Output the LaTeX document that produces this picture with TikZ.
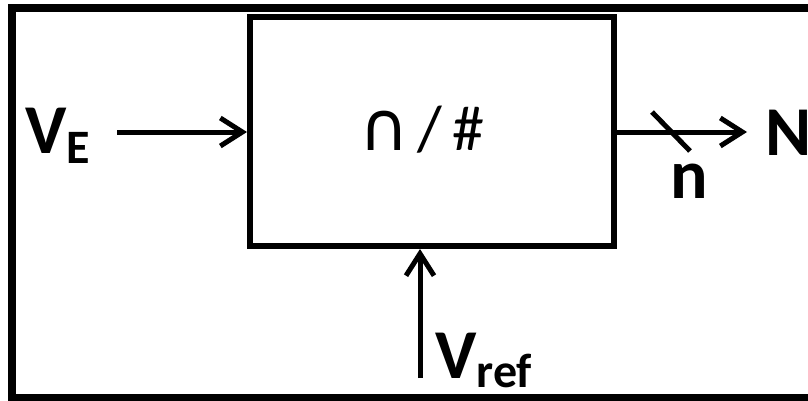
\documentclass[tikz,border=0pt]{standalone}
\usepackage{fontspec}
\setmainfont{Carlito}
\newfontfamily\dejavu{DejaVu Sans}
\usetikzlibrary{arrows.meta}
\tikzset{
  wire/.style={line width=5pt, -{Straight Barb[length=22pt,width=28pt,line width=5pt]}},
  lbl/.style={anchor=base west, inner sep=0pt, font=\fontsize{70}{70}\selectfont\bfseries},
  blk/.style={draw, line width=6pt, inner sep=0pt}
}
\begin{document}
\begin{tikzpicture}[x=1pt,y=-1pt]
\useasboundingbox (0,0) rectangle (808,400);
\clip (0,0) rectangle (808,400);
\draw[line width=8pt] (12,8) rectangle (900,398);
\node[blk, minimum width=364pt, minimum height=229pt] (box) at (432,131.5) {};
\node[anchor=base, inner sep=0pt] (fn) at (422,150)
  {{\dejavu\fontsize{68}{68}\selectfont ∩}\hspace{8pt}{\fontsize{64}{64}\selectfont /\hspace{10pt}\#}};
\node[lbl] (ve) at (25,153) {V\raisebox{-10pt}{\fontsize{48}{48}\selectfont E}};
\coordinate (vein) at (117,132);
\draw[wire] (vein) -- (box.west |- vein);
\coordinate (nout) at (747,132);
\draw[wire] (box.east |- nout) -- (nout);
\coordinate (s1) at (652,112);
\coordinate (s2) at (690,151);
\draw[line width=5pt] (s1) -- (s2);
\node[lbl] (N) at (765,155) {N};
\node[lbl] (n) at (670,198) {n};
\coordinate (vrin) at (420,378);
\draw[wire] (vrin) -- (box.south -| vrin);
\node[lbl] (vr) at (435,378) {V\raisebox{-9pt}{\fontsize{48}{48}\selectfont ref}};
\end{tikzpicture}
\end{document}
